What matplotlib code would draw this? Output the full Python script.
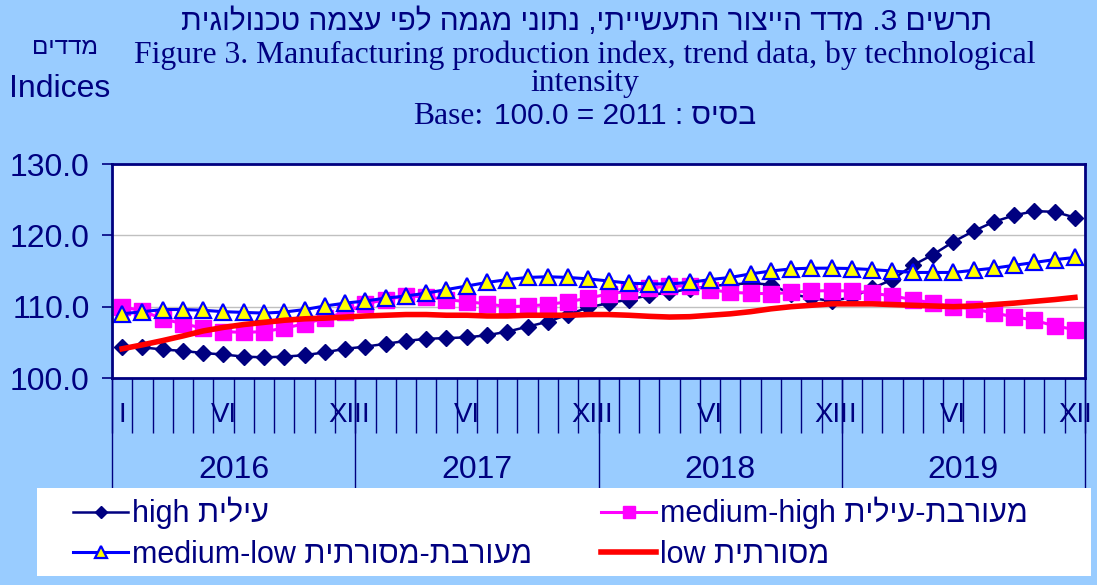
import numpy as np
import matplotlib
matplotlib.use('Agg')
import matplotlib.pyplot as plt
from matplotlib.transforms import blended_transform_factory
from matplotlib.patches import Rectangle
from matplotlib.offsetbox import TextArea, HPacker, AnchoredOffsetbox

NAVY = '#000080'
BG = '#99CCFF'
SANS = ['Liberation Sans', 'DejaVu Sans']
SERIF = ['Liberation Serif', 'DejaVu Serif']


def rtl(s):
    # hebrew drawn left to right, so reverse it by hand
    return s[::-1]


years = ['2016', '2017', '2018', '2019']
month_names = ['I', 'VI', 'XII']
month_pos = [0, 5, 11]

high = [104.4, 104.3, 104.0, 103.8, 103.5, 103.3, 103.0, 102.9, 103.0, 103.2, 103.6, 104.1,
        104.4, 104.8, 105.2, 105.5, 105.6, 105.7, 106.0, 106.5, 107.2, 107.9, 108.9, 109.9,
        110.5, 111.0, 111.6, 112.0, 112.5, 112.9, 113.1, 113.3, 113.1, 111.8, 111.2, 110.8,
        111.3, 112.6, 113.8, 115.8, 117.3, 119.1, 120.6, 121.9, 122.8, 123.4, 123.3, 122.5]
medium_high = [110.0, 109.4, 108.3, 107.6, 107.0, 106.5, 106.4, 106.5, 107.0, 107.6, 108.4, 109.2,
               110.4, 111.0, 111.5, 111.4, 111.0, 110.7, 110.4, 110.0, 110.1, 110.3, 110.7, 111.2,
               111.8, 112.2, 112.6, 112.9, 112.9, 112.4, 112.0, 111.9, 111.8, 112.0, 112.2, 112.25,
               112.2, 111.9, 111.5, 111.0, 110.5, 110.0, 109.7, 109.1, 108.6, 108.1, 107.3, 106.8]
medium_low = [109.0, 109.3, 109.6, 109.6, 109.5, 109.3, 109.2, 109.1, 109.25, 109.6, 110.1, 110.5,
              110.8, 111.2, 111.5, 111.9, 112.4, 112.9, 113.4, 113.8, 114.1, 114.2, 114.1, 113.9,
              113.6, 113.3, 113.2, 113.2, 113.4, 113.8, 114.1, 114.6, 115.0, 115.3, 115.4, 115.4,
              115.35, 115.2, 115.0, 114.8, 114.8, 114.8, 115.1, 115.4, 115.8, 116.2, 116.6, 116.9]
low = [104.1, 104.65, 105.25, 105.9, 106.6, 107.1, 107.5, 107.8, 108.1, 108.3, 108.4, 108.55,
       108.7, 108.8, 108.9, 108.9, 108.8, 108.8, 108.7, 108.7, 108.8, 108.8, 108.8, 108.9,
       108.9, 108.8, 108.65, 108.55, 108.6, 108.8, 109.0, 109.3, 109.7, 110.0, 110.2, 110.4,
       110.4, 110.4, 110.3, 110.2, 110.1, 110.0, 110.1, 110.3, 110.5, 110.75, 111.0, 111.3]

labels = ['high ' + rtl('עילית'),
          'medium-high ' + rtl('מעורבת-עילית'),
          'medium-low ' + rtl('מעורבת-מסורתית'),
          'low ' + rtl('מסורתית')]

fig = plt.figure(figsize=(10.97, 5.85), dpi=100, facecolor=BG)
ax = fig.add_axes([0.1021, 0.3538, 0.8870, 0.3658])
ax.set_facecolor('white')

x = np.arange(len(high))
l1, = ax.plot(x, high, color=NAVY, lw=1.8, marker='D', ms=8, mfc=NAVY, mec=NAVY)
l2, = ax.plot(x, medium_high, color='#FF00FF', lw=2.2, marker='s', ms=11, mfc='#FF00FF', mec='#FF00FF')
l3, = ax.plot(x, medium_low, color='#0000FF', lw=2.2, marker='^', ms=11, mfc='#FFFF00', mec='#0000FF', mew=1.6)
l4, = ax.plot(x, low, color='#FF0000', lw=4)

ax.set_xlim(-0.5, len(high) - 0.5)
ax.set_ylim(100, 130)
ax.set_yticks([100, 110, 120, 130])
ax.set_yticklabels([f'{v:.1f}' for v in [100, 110, 120, 130]], fontsize=23, color=NAVY, family=SANS)
ax.grid(axis='y', color='#C0C0C0', lw=1)
ax.set_axisbelow(True)
for sp in ax.spines.values():
    sp.set_color(NAVY)
    sp.set_linewidth(2)
ax.tick_params(axis='y', direction='out', length=7, width=1.2, color=NAVY, pad=9)

# month boundaries as minor ticks, no labels
ax.set_xticks([])
ax.set_xticks(np.arange(-0.5, len(high), 1), minor=True)
ax.tick_params(axis='x', which='minor', direction='out', length=39.6, width=1, color=NAVY,
               labelbottom=False)

tr = blended_transform_factory(ax.transData, ax.transAxes)
ax.vlines(np.arange(-0.5, len(high), 12), -0.514, 0, transform=tr, clip_on=False, color=NAVY, lw=1)
for i, yr in enumerate(years):
    for m, nm in zip(month_pos, month_names):
        ax.text(12 * i + m, -0.173, nm, transform=tr, ha='center', va='center',
                fontsize=20, color=NAVY, family=SANS)
    ax.text(12 * i + 5.5, -0.43, yr, transform=tr, ha='center', va='center',
            fontsize=23, color=NAVY, family=SANS)

# titles
fig.text(0.535, 1 - 22 / 585, rtl('תרשים 3. מדד הייצור התעשייתי, נתוני מגמה לפי עצמה טכנולוגית'),
         ha='center', va='center', fontsize=21.5, color=NAVY, family=SANS)
fig.text(0.533, 1 - 55 / 585, 'Figure 3. Manufacturing production index, trend data, by technological',
         ha='center', va='center', fontsize=22.8, color=NAVY, family=SERIF)
fig.text(0.533, 1 - 84 / 585, 'intensity', ha='center', va='center', fontsize=22.8, color=NAVY, family=SERIF)
base = HPacker(children=[TextArea('Base:', textprops=dict(family=SERIF, size=22.8, color=NAVY)),
                         TextArea('100.0 = 2011 : ' + rtl('בסיס'),
                                  textprops=dict(family=SANS, size=21.5, color=NAVY))],
               align='baseline', pad=0, sep=8)
fig.add_artist(AnchoredOffsetbox(loc='center', child=base, frameon=False, pad=0, borderpad=0,
                                 bbox_to_anchor=(0.533, 1 - 116 / 585), bbox_transform=fig.transFigure))
fig.text(0.059, 1 - 48 / 585, rtl('מדדים'), ha='center', va='center', fontsize=17.5, color=NAVY, family=SANS)
fig.text(0.054, 1 - 89 / 585, 'Indices', ha='center', va='center', fontsize=23, color=NAVY, family=SANS)

# legend box
fig.add_artist(Rectangle((37 / 1097, 9 / 585), 1054 / 1097, 88 / 585, transform=fig.transFigure,
                         facecolor='white', edgecolor='none', zorder=2))
kw = dict(loc='upper left', frameon=False, handlelength=1.8, handletextpad=0.12,
          borderpad=0, borderaxespad=0, labelspacing=0.34, markerscale=0.75, labelcolor=NAVY,
          prop={'family': SANS, 'size': 22})
leg1 = fig.legend([l1, l3], [labels[0], labels[2]], bbox_to_anchor=(73 / 1097, 1 - 497 / 585), **kw)
leg2 = fig.legend([l2, l4], [labels[1], labels[3]], bbox_to_anchor=(601 / 1097, 1 - 497 / 585), **kw)
leg1.set_zorder(5)
leg2.set_zorder(5)

fig.savefig('out.png', dpi=100, facecolor=BG)
